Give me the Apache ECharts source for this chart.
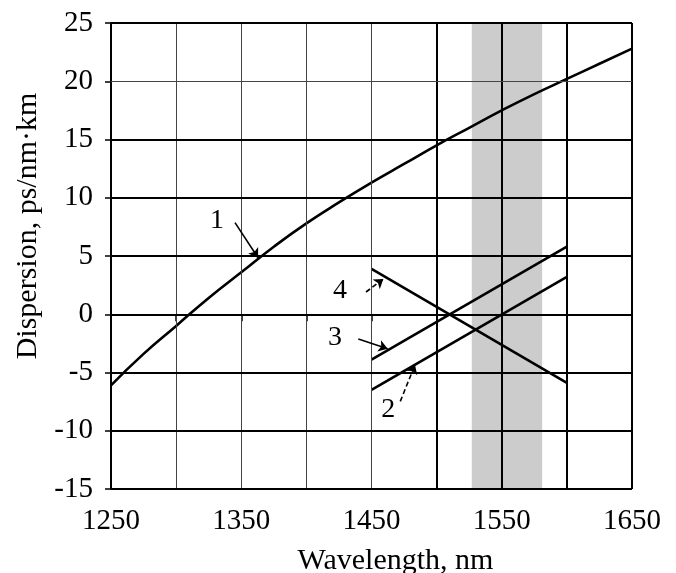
<!DOCTYPE html>
<html><head><meta charset="utf-8">
<script src="https://cdn.jsdelivr.net/npm/echarts@6/dist/echarts.min.js"></script>
<style>html,body{margin:0;padding:0;background:#fff}#c{width:676px;height:573px}</style>
</head><body><div id="c"></div>
<script>
// Curve 1 (standard fibre)
const curve1X = [1250,1275,1300,1325,1350,1375,1400,1425,1450,1475,1500,1525,1550,1575,1600,1625,1650];
const curve1Y = [-6.1,-3.4,-1.0,1.4,3.6,5.8,7.8,9.6,11.3,12.9,14.5,16.0,17.5,18.9,20.2,21.5,22.8];
// Curves 2,3,4 (straight segments)
const segX = [1450,1600];
const curve2Y = [-6.5,3.2];
const curve3Y = [-3.9,5.8];
const curve4Y = [3.9,-5.9];
// Shaded band (nm)
const bandRange = [1527,1581];
// Grid lines
const thickGridX = [1500,1550,1600,1650];
const thinGridX = [1300,1350,1400,1450];
const thickGridY = [-15,-10,-5,0,5,10,15,25];
const thinGridY = [20];
// Annotations (data coordinates)
const annText = ['1','2','3','4'];
const annX = [1331.4,1462.9,1422.0,1425.8];
const annY = [8.0,-8.2,-2.0,2.0];
const arrowFromX = [1345.2,1472.1,1439.9,1445.8];
const arrowFromY = [7.86,-7.48,-2.12,1.91];
const arrowToX = [1362.9,1483.4,1462.4,1459.1];
const arrowToY = [4.85,-4.33,-2.96,3.03];
const arrowDashed = [false,true,false,true];

const FONT = '"Liberation Serif","Times New Roman",serif';
const chart = echarts.init(document.getElementById('c'), null, {renderer:'canvas'});

const gridLines = [];
thickGridX.forEach(v=>gridLines.push({xAxis:v, lineStyle:{color:'#000',width:2,type:'solid'}}));
thinGridX.forEach(v=>gridLines.push({xAxis:v, lineStyle:{color:'#444',width:1,type:'solid'}}));
thickGridY.forEach(v=>gridLines.push({yAxis:v, lineStyle:{color:'#000',width:2,type:'solid'}}));
thinGridY.forEach(v=>gridLines.push({yAxis:v, lineStyle:{color:'#444',width:1,type:'solid'}}));

const arrows = annText.map((t,i)=>[
  {coord:[arrowFromX[i],arrowFromY[i]], lineStyle:{color:'#000',width:1.6,type: arrowDashed[i]?[5,3]:'solid'}},
  {coord:[arrowToX[i],arrowToY[i]]}
]);

const lineStyle = {color:'#000', width:2.6};
chart.setOption({
  animation:false,
  backgroundColor:'#fff',
  grid:{left:111,right:44,top:23,bottom:84,containLabel:false,outerBoundsMode:'none'},
  xAxis:{
    type:'value', min:1250, max:1650, interval:50,
    name:'Wavelength, nm', nameLocation:'middle', nameGap:57,
    nameTextStyle:{fontFamily:FONT,fontSize:30,color:'#000',padding:[0,0,0,48]},
    axisLine:{show:true,lineStyle:{color:'#000',width:2}},
    axisTick:{show:true,inside:false,length:7,lineStyle:{color:'#000',width:1.5}},
    axisLabel:{fontFamily:FONT,fontSize:29,color:'#000',margin:18,
      formatter:v=> (v%100===50 ? String(v) : '')},
    splitLine:{show:false}
  },
  yAxis:{
    type:'value', min:-15, max:25, interval:5,
    name:'Dispersion, ps/nm·km', nameLocation:'middle', nameGap:62,
    nameTextStyle:{fontFamily:FONT,fontSize:30,color:'#000',padding:[0,0,0,60]},
    axisLine:{show:true,lineStyle:{color:'#000',width:2}},
    axisTick:{show:true,inside:false,length:6,lineStyle:{color:'#000',width:1.5}},
    axisLabel:{fontFamily:FONT,fontSize:29,color:'#000',margin:18},
    splitLine:{show:false}
  },
  series:[
    {type:'line', name:'band', data:[], z:1,
      markArea:{silent:true, itemStyle:{color:'#cccccc'},
        data:[[{xAxis:bandRange[0]},{xAxis:bandRange[1]}]]}},
    {type:'line', name:'grid', data:[], z:2,
      markLine:{silent:true, symbol:'none', label:{show:false}, animation:false, data:gridLines}},
    {type:'line', name:'1', data:curve1X.map((x,i)=>[x,curve1Y[i]]), smooth:true, showSymbol:false, lineStyle, z:3},
    {type:'line', name:'2', data:segX.map((x,i)=>[x,curve2Y[i]]), showSymbol:false, lineStyle, z:3},
    {type:'line', name:'3', data:segX.map((x,i)=>[x,curve3Y[i]]), showSymbol:false, lineStyle, z:3},
    {type:'line', name:'4', data:segX.map((x,i)=>[x,curve4Y[i]]), showSymbol:false, lineStyle, z:3,
      markLine:{silent:true, symbol:['none','arrow'], symbolSize:9, itemStyle:{color:'#000'},
        label:{show:false}, animation:false, data:arrows}},
    {type:'scatter', name:'labels', z:4, symbol:'circle', symbolSize:0, itemStyle:{color:'#000',opacity:1},
      data:annText.map((t,i)=>({value:[annX[i],annY[i]], name:t})),
      label:{show:true, position:'inside', formatter:p=>p.name, fontFamily:FONT, fontSize:28,
        color:'#000', textBorderWidth:0, textBorderColor:'transparent', opacity:1}}
  ]
});
</script></body></html>
